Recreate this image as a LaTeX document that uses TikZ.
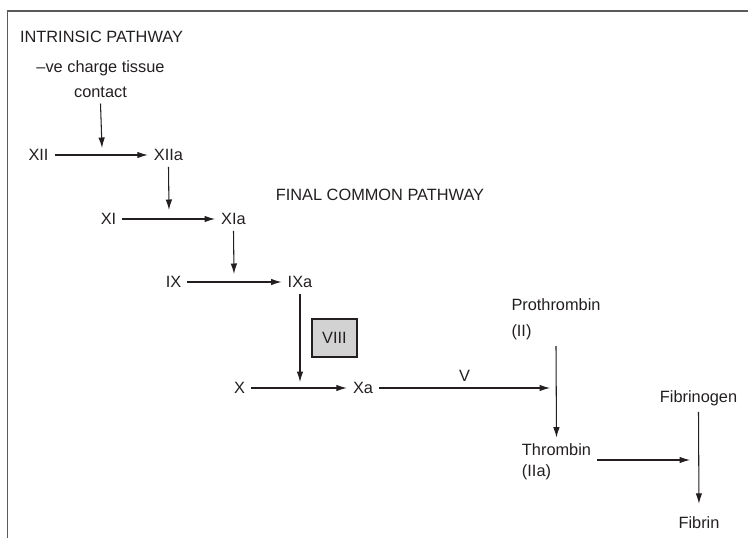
\documentclass[tikz,border=0pt]{standalone}
\usepackage{fontspec}
\setmainfont{Liberation Sans}
\usetikzlibrary{arrows.meta}
\definecolor{Ink}{HTML}{231F20}
\definecolor{FrameGrey}{HTML}{5A5A5A}
\definecolor{BoxGrey}{HTML}{D2D2D2}
\begin{document}
\begin{tikzpicture}[x=0.02cm,y=-0.02cm,>={Latex[length=0.21cm,width=0.13cm]},every node/.style={font=\fontsize{9.3}{14}\selectfont,text=Ink},flow/.style={->,draw=Ink,line width=0.6pt}]
\useasboundingbox(0,0)rectangle(748,538);\draw[FrameGrey,line width=0.9pt](7.5,538)--(7.5,11)--(748,11);
\node(intr)at(101.5,37){INTRINSIC PATHWAY};\node[align=center](tissue)at(100.5,79){--ve charge tissue\\contact};\node(final)at(380,195){FINAL COMMON PATHWAY};
\node(xii)at(38.5,155){XII};\node(xiia)at(168.5,155){XIIa};\node(xi)at(108.5,219){XI};\node(xia)at(233.5,219){XIa};
\node(ix)at(173.5,282){IX};\node(ixa)at(300,282){IXa};\node(x)at(239.5,388){X};\node(xa)at(363,388){Xa};
\node[draw=Ink,fill=BoxGrey,minimum width=0.9cm,minimum height=0.76cm,line width=0.6pt](viii)at(334.5,338){VIII};
\node[align=left](pro)at(556,319){Prothrombin\\[1pt](II)};\node[align=left](thr)at(556.5,462){Thrombin\\[-2pt](IIa)};
\node(fgen)at(698.5,398){Fibrinogen};\node(fib)at(699,523){Fibrin};
\coordinate(m1)at(102,148);\coordinate(m2)at(169,210);\coordinate(m3)at(234,274);\coordinate(m4)at(300,382);\coordinate(m5)at(550,388);\coordinate(m6)at(690,460);
\draw[flow](xii)--(xiia);\draw[flow](tissue.south)--(m1);\draw[flow](xiia.south)--(m2);\draw[flow](xi)--(xia);\draw[flow](xia.south)--(m3);
\draw[flow](ix)--(ixa);\draw[flow](ixa.south)--(m4);\draw[flow](x)--(xa);\draw[flow](xa)--(m5)node[midway,above]{V};
\draw[flow](pro.south)--(thr.north);\draw[flow](thr.east|-m6)--(m6);\draw[flow,shorten >=0.14cm](fgen.south)--(fib.north);
\end{tikzpicture}
\end{document}
